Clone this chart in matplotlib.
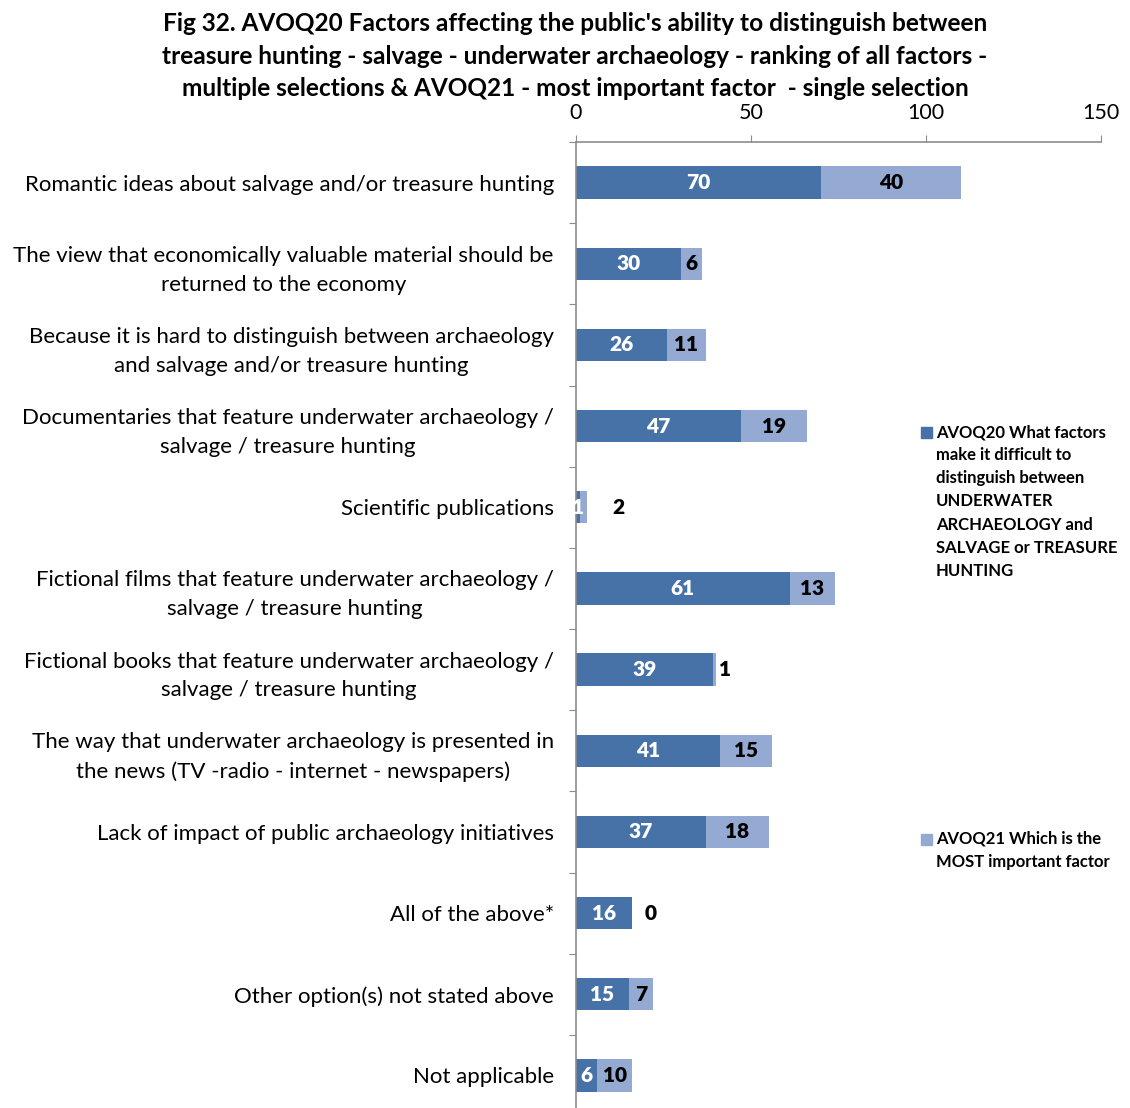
"""Fig 32 - AVOQ20 / AVOQ21 stacked horizontal bars."""

import matplotlib.pyplot as plt
from matplotlib.patches import Rectangle
import numpy as np

plt.rcParams["font.family"] = ["Lato", "DejaVu Sans"]

categories = [
    "Romantic ideas about salvage and/or treasure hunting",
    "The view that economically valuable material should be\nreturned to the economy",
    "Because it is hard to distinguish between archaeology\nand salvage and/or treasure hunting",
    "Documentaries that feature underwater archaeology /\nsalvage / treasure hunting",
    "Scientific publications",
    "Fictional films that feature underwater archaeology /\nsalvage / treasure hunting",
    "Fictional books that feature underwater archaeology /\nsalvage / treasure hunting",
    "The way that underwater archaeology is presented in\nthe news (TV -radio - internet - newspapers)",
    "Lack of impact of public archaeology initiatives",
    "All of the above*",
    "Other option(s) not stated above",
    "Not applicable",
]
q20_values = [70, 30, 26, 47, 1, 61, 39, 41, 37, 16, 15, 6]
q21_values = [40, 6, 11, 19, 2, 13, 1, 15, 18, 0, 7, 10]
x_ticks = [0, 50, 100, 150]

title = ("Fig 32. AVOQ20 Factors affecting the public's ability to distinguish between\n"
         "treasure hunting - salvage - underwater archaeology - ranking of all factors -\n"
         "multiple selections & AVOQ21 - most important factor  - single selection")
legend_q20 = ("AVOQ20 What factors\nmake it difficult to\ndistinguish between\n"
              "UNDERWATER\nARCHAEOLOGY and\nSALVAGE or TREASURE\nHUNTING")
legend_q21 = "AVOQ21 Which is the\nMOST important factor"

DARK = "#4672A8"
LIGHT = "#95AAD3"
GRID = "#8c8c8c"
W, H = 1130, 1108

# labels of thin light segments drawn outside the bar (x offset in px)
outside_offsets = {4: 32, 6: 9, 9: 19}

fig = plt.figure(figsize=(W / 100, H / 100), dpi=100)
ax = fig.add_axes([576 / W, -8 / H, (1101 - 576) / W, (1116 - 142) / H])

y = np.arange(len(categories))
q20 = np.array(q20_values)
q21 = np.array(q21_values)
bar_h = 0.4
ax.barh(y, q20, height=bar_h, color=DARK)
ax.barh(y, q21, left=q20, height=bar_h, color=LIGHT)

for i in range(len(categories)):
    ax.text(q20[i] / 2, y[i], str(q20[i]), ha="center", va="center",
            color="white", fontsize=15, fontweight="heavy")
    if i in outside_offsets:
        ax.annotate(str(q21[i]), (q20[i] + q21[i], y[i]),
                    xytext=(outside_offsets[i] * 0.72, 0), textcoords="offset points",
                    ha="center", va="center", color="black",
                    fontsize=15, fontweight="heavy")
    else:
        ax.text(q20[i] + q21[i] / 2, y[i], str(q21[i]), ha="center", va="center",
                color="black", fontsize=15, fontweight="heavy")

ax.set_xlim(0, 150)
ax.set_ylim(len(categories) - 0.5, -0.5)
ax.xaxis.tick_top()
ax.set_xticks(x_ticks)
ax.tick_params(axis="x", direction="out", length=5, color=GRID, pad=9,
               labelsize=15.5)

# category boundaries as ticks, labels at centres
ax.set_yticks(np.arange(-0.5, len(categories), 1.0))
ax.set_yticklabels([])
ax.set_yticks(y, minor=True)
ax.set_yticklabels(categories, minor=True, fontsize=16, linespacing=1.55)
for lbl in ax.get_yticklabels(minor=True):
    lbl.set_multialignment("center")
ax.tick_params(axis="y", which="major", direction="out", length=5, color=GRID)
ax.tick_params(axis="y", which="minor", length=0, pad=16)

for side in ("bottom", "right"):
    ax.spines[side].set_visible(False)
for side in ("top", "left"):
    ax.spines[side].set_color(GRID)
    ax.spines[side].set_linewidth(1.2)

fig.text(575 / W, 1 - 12 / H, title, ha="center", va="top", fontsize=17.6,
         fontweight="bold", linespacing=1.5)

# legend drawn as two separate entries, like the source layout
for text, color, top in ((legend_q20, DARK, 424), (legend_q21, LIGHT, 831)):
    fig.patches.append(Rectangle((921 / W, 1 - (top + 14) / H), 11 / W, 11 / H,
                                 transform=fig.transFigure, color=color))
    fig.text(936 / W, 1 - top / H, text, ha="left", va="top", fontsize=12,
             fontweight="bold", linespacing=1.55)

fig.savefig("out.png", dpi=100, facecolor="white")
